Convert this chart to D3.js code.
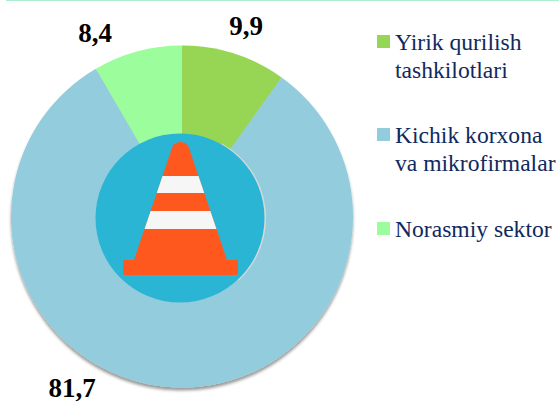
<!DOCTYPE html>
<html><head><meta charset="utf-8">
<script src="https://cdn.jsdelivr.net/npm/d3@7"></script>
<style>html,body{margin:0;padding:0;background:#fff}svg{display:block}</style>
</head><body><div id="c"></div>
<script>
const categories = ["Yirik qurilish tashkilotlari", "Kichik korxona va mikrofirmalar", "Norasmiy sektor"];
const legendLines = [["Yirik qurilish", "tashkilotlari"], ["Kichik korxona", "va mikrofirmalar"], ["Norasmiy sektor"]];
const values = [9.9, 81.7, 8.4];
const valueLabels = ["9,9", "81,7", "8,4"];
const colors = ["#97d555", "#93cddd", "#9bfd9b"];
const labelPos = [[246, 35], [72, 397], [95, 42]];
const legendY = [35, 128, 222];

const svg = d3.select("#c").append("svg").attr("width", 559).attr("height", 403);
const defs = svg.append("defs");
const f = defs.append("filter").attr("id", "sh").attr("x", "-10%").attr("y", "-10%").attr("width", "120%").attr("height", "120%");
f.append("feDropShadow").attr("dx", 0).attr("dy", 3).attr("stdDeviation", 1.6).attr("flood-color", "#000").attr("flood-opacity", 0.4);

svg.append("rect").attr("x", 6).attr("y", 0).attr("width", 553).attr("height", 1).attr("fill", "#aeeccf");

const cx = 182, cy = 216.5, R = 171;
const pie = d3.pie().sort(null).value(d => d)(values);
const arc = d3.arc().innerRadius(0).outerRadius(R);
svg.append("g").attr("transform", `translate(${cx},${cy})`).attr("filter", "url(#sh)")
  .selectAll("path").data(pie).join("path")
  .attr("d", arc).attr("fill", (d, i) => colors[i]);

svg.selectAll("text.val").data(valueLabels).join("text").attr("class", "val")
  .attr("x", (d, i) => labelPos[i][0]).attr("y", (d, i) => labelPos[i][1])
  .attr("text-anchor", "middle")
  .attr("font-family", "'Liberation Serif'").attr("font-weight", "bold").attr("font-size", 27)
  .attr("fill", "#000").text(d => d);

// Legend
const lg = svg.append("g");
categories.forEach((c, i) => {
  lg.append("rect").attr("x", 377).attr("y", legendY[i]).attr("width", 13).attr("height", 13).attr("fill", colors[i]);
  legendLines[i].forEach((t, j) => {
    lg.append("text").attr("x", 395).attr("y", legendY[i] + 15 + j * 28)
      .attr("font-family", "'Liberation Serif'").attr("font-size", 23.6)
      .attr("fill", "#10295e").text(t);
  });
});

// Centre emblem (traffic cone)
const ic = svg.append("g");
ic.append("path").attr("fill", "#d8d8d8").attr("d", d3.arc().innerRadius(0).outerRadius(85).startAngle(0.5).endAngle(2.4)()).attr("transform", "translate(181,218)");
ic.append("circle").attr("cx", 180).attr("cy", 218).attr("r", 84.5).attr("fill", "#2bb5d4");
const edge = y => 134 + (260 - y) * 38 / 112;
const rEdge = y => 361 - edge(y);
ic.append("path").attr("fill", "#ff581e").attr("d",
  `M${edge(150)},150 Q${edge(150)+2},142 180.5,142 Q${rEdge(150)-2},142 ${rEdge(150)},150 L${rEdge(260)},260 H236 Q238,260 238,262 V273 Q238,275 236,275 H125 Q123,275 123,273 V262 Q123,260 125,260 H${edge(260)} Z`);
[[176, 193], [211, 229]].forEach(([a, b]) => {
  ic.append("path").attr("fill", "#f6f6f6").attr("d",
    `M${edge(a)},${a} L${rEdge(a)},${a} L${rEdge(b)},${b} L${edge(b)},${b} Z`);
});
</script></body></html>
